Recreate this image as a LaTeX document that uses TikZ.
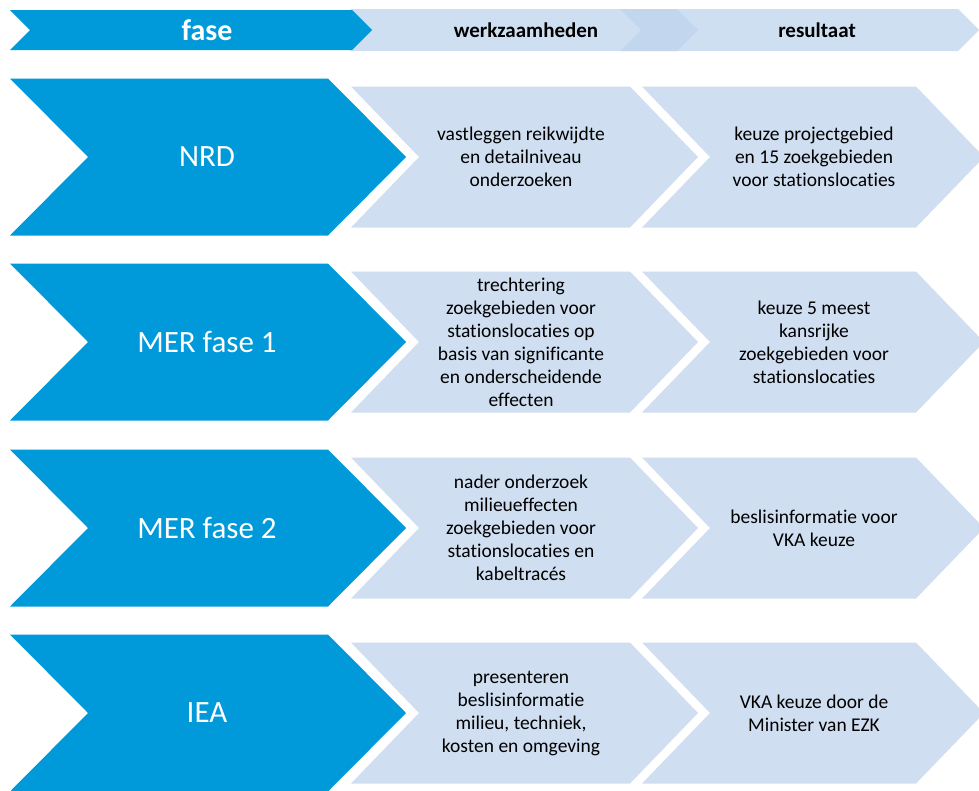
\documentclass[tikz,border=0pt]{standalone}
\usepackage{fontspec}
\setmainfont{Carlito}[Ligatures=NoCommon]
\usetikzlibrary{positioning}
\definecolor{faseblue}{RGB}{0,153,218}
\definecolor{steplight}{RGB}{207,222,240}
\definecolor{headlight}{RGB}{190,212,236}
% chevron outline: left x, top y, right x, height, point depth
\newcommand{\chevpath}[5]{(#1,#2) -- (#3,#2) -- ({#3+#5},{#2+#4/2}) -- (#3,{#2+#4}) -- (#1,{#2+#4}) -- ({#1+#5},{#2+#4/2}) -- cycle}
\tikzset{
  fasetext/.style={text=white,font=\fontsize{31}{36}\selectfont,align=center},
  steptext/.style={text=black,font=\fontsize{19.5}{23}\selectfont,align=center},
  headtext/.style={text=black,font=\bfseries\fontsize{21}{25}\selectfont}
}

\begin{document}
\begin{tikzpicture}[x=1pt,y=-1pt]

                \useasboundingbox (0,0) rectangle (979,790);
                \clip (0,0) rectangle (979,790);

                % Header row.
                \fill[headlight,fill opacity=.75] \chevpath{350}{9}{677}{42}{21};
                \fill[headlight,fill opacity=.75] \chevpath{620}{9}{958}{42}{21};
                \fill[faseblue] \chevpath{10}{10}{352}{40}{20};
                \node[headtext,text=white,font=\bfseries\fontsize{30}{34}\selectfont] (hfase) at (207,30) {fase};
                \node[headtext] (hwerk) at (526,30) {werkzaamheden};
                \node[headtext] (hres) at (817,30) {resultaat};

                % Phase rows.
                \foreach \c/\fase/\werk/\res [count=\i] in {
                    157/NRD/{vastleggen reikwijdte\\en detailniveau\\onderzoeken}/{keuze projectgebied\\en 15 zoekgebieden\\voor stationslocaties},
                    342/MER fase 1/{trechtering\\zoekgebieden voor\\stationslocaties op\\basis van significante\\en onderscheidende\\effecten}/{keuze 5 meest\\kansrijke\\zoekgebieden voor\\stationslocaties},
                    528/MER fase 2/{nader onderzoek\\milieueffecten\\zoekgebieden voor\\stationslocaties en\\kabeltracés}/{beslisinformatie voor\\VKA keuze},
                    713/IEA/{presenteren\\beslisinformatie\\milieu, techniek,\\kosten en omgeving}/{VKA keuze door de\\Minister van EZK}} {
                    \fill[steplight] \chevpath{351}{\c-70.5}{630}{141}{68};
                    \fill[steplight] \chevpath{642}{\c-70.5}{916}{141}{68};
                    \fill[faseblue] \chevpath{10}{\c-78.5}{328}{157}{78};
                    \node[fasetext] (fase\i) at (207,\c) {\fase};
                    \node[steptext] (werk\i) at (521,\c) {\werk};
                    \node[steptext] (res\i) at (814,\c) {\res};
                }
\end{tikzpicture}
\end{document}
